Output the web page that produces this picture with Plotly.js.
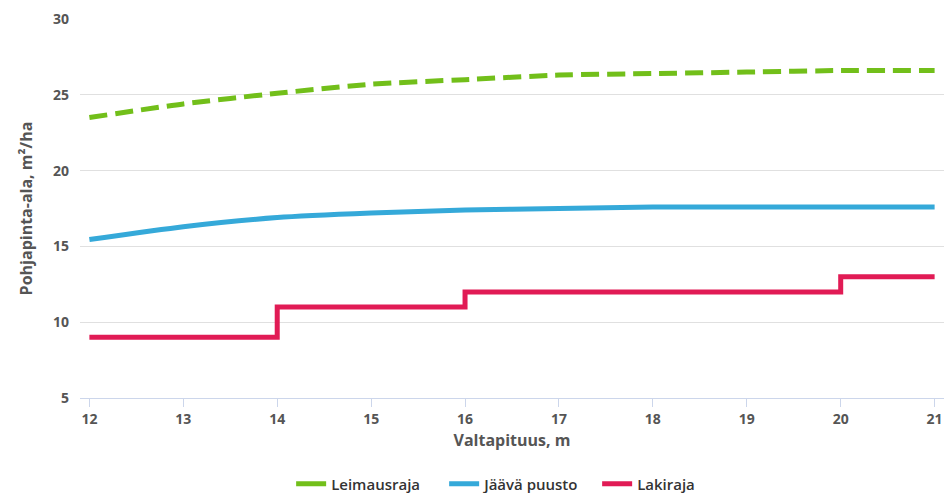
<!DOCTYPE html>
<html>
<head>
<meta charset="utf-8">
<script src="https://cdn.plot.ly/plotly-3.0.1.min.js"></script>
<style>html,body{margin:0;padding:0;background:#fff;}#chart{width:946px;height:493px;}</style>
</head>
<body>
<div id="chart"></div>
<script>
const heights = [12, 13, 14, 15, 16, 17, 18, 19, 20, 21];
const leimausraja = [23.5, 24.4, 25.1, 25.7, 26.0, 26.3, 26.4, 26.5, 26.6, 26.6];
const jaavaPuusto = [15.45, 16.3, 16.9, 17.2, 17.4, 17.5, 17.6, 17.6, 17.6, 17.6];
const lakirajaX = [12, 14, 16, 20, 21];
const lakirajaY = [9, 11, 12, 13, 13];
const seriesNames = ["Leimausraja", "Jäävä puusto", "Lakiraja"];
const xTicks = [12, 13, 14, 15, 16, 17, 18, 19, 20, 21];
const yTicks = [5, 10, 15, 20, 25, 30];

const green = "#72bf1a", blue = "#35a9d9", red = "#e11b55";
const font = "Open Sans, Liberation Sans, sans-serif";

const traces = [
  {x: heights, y: leimausraja, mode: "lines", name: seriesNames[0], showlegend: false,
   line: {color: green, width: 5, dash: "18px,8px", shape: "spline", smoothing: 0.6}, hoverinfo: "skip"},
  {x: heights, y: jaavaPuusto, mode: "lines", name: seriesNames[1], showlegend: false,
   line: {color: blue, width: 5, shape: "spline", smoothing: 0.6}, hoverinfo: "skip"},
  {x: lakirajaX, y: lakirajaY, mode: "lines", name: seriesNames[2], showlegend: false,
   line: {color: red, width: 5, shape: "hv"}, hoverinfo: "skip"},
  {x: [null], y: [null], mode: "lines", name: seriesNames[0], line: {color: green, width: 5}},
  {x: [null], y: [null], mode: "lines", name: seriesNames[1], line: {color: blue, width: 5}},
  {x: [null], y: [null], mode: "lines", name: seriesNames[2], line: {color: red, width: 5}}
];

const layout = {
  width: 946, height: 493,
  margin: {l: 80, r: 2, t: 19, b: 95, autoexpand: false},
  paper_bgcolor: "#fff", plot_bgcolor: "#fff",
  font: {family: font, color: "#555"},
  showlegend: true,
  legend: {orientation: "h", x: 0.51, xanchor: "center", y: -0.227, yanchor: "middle",
    font: {family: font, size: 15, color: "#333", weight: 600}, tracegroupgap: 0,
    entrywidth: 108, entrywidthmode: "pixels"},
  xaxis: {
    range: [11.9, 21.1], tickvals: xTicks, ticktext: xTicks.map(String),
    showgrid: false, zeroline: false,
    showline: true, linecolor: "#ccd6eb", linewidth: 1,
    ticks: "outside", ticklen: 8, tickcolor: "#ccd6eb", tickwidth: 1,
    tickfont: {family: font, size: 14, color: "#555", weight: "bold"},
    title: {text: "Valtapituus, m", font: {family: font, size: 16, color: "#555", weight: "bold"}, standoff: 8}
  },
  yaxis: {
    range: [5, 30], tickvals: yTicks, ticktext: yTicks.map(String),
    showgrid: true, gridcolor: "#e0e0e0", gridwidth: 1, zeroline: false, showline: false,
    ticks: "", ticklabelstandoff: 10,
    tickfont: {family: font, size: 14, color: "#555", weight: "bold"},
    title: {text: "Pohjapinta-ala, m²/ha", font: {family: font, size: 16, color: "#555", weight: "bold"}, standoff: 16}
  }
};

Plotly.newPlot("chart", traces, layout, {staticPlot: true, displayModeBar: false});
</script>
</body>
</html>
